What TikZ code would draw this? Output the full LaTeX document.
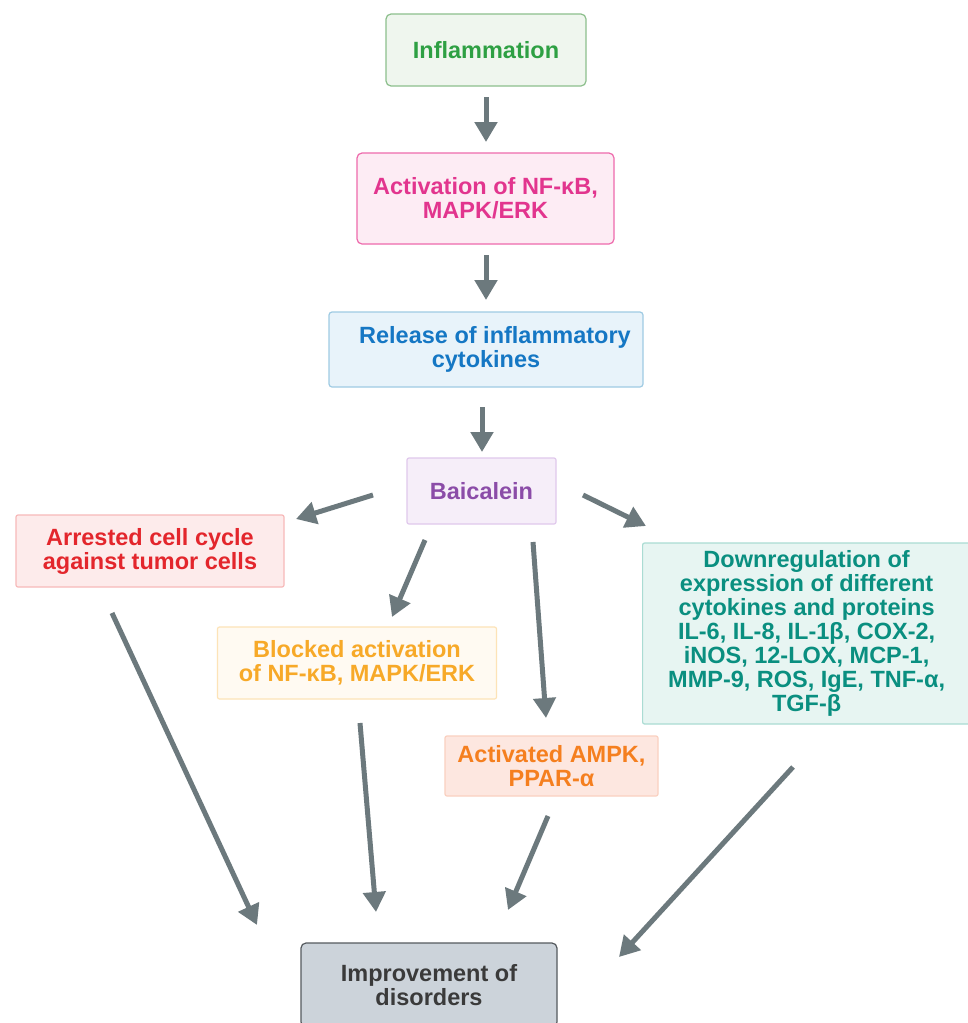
\documentclass[tikz,border=0pt]{standalone}
\usepackage{fontspec}
\setmainfont{Liberation Sans}
\usetikzlibrary{arrows.meta}
\definecolor{arrowgrey}{HTML}{6C797D}
\definecolor{gT}{HTML}{2EA043}\definecolor{gD}{HTML}{8CBF8C}\definecolor{gF}{HTML}{EFF6EE}
\definecolor{pT}{HTML}{E2358E}\definecolor{pD}{HTML}{EE6AAC}\definecolor{pF}{HTML}{FDECF4}
\definecolor{bT}{HTML}{1577C4}\definecolor{bD}{HTML}{9FCBE3}\definecolor{bF}{HTML}{E8F3FA}
\definecolor{vT}{HTML}{8B4CA8}\definecolor{vD}{HTML}{E0C8EC}\definecolor{vF}{HTML}{F6EEF9}
\definecolor{rT}{HTML}{E3262C}\definecolor{rD}{HTML}{F7B9B9}\definecolor{rF}{HTML}{FDEBEB}
\definecolor{yT}{HTML}{F7A928}\definecolor{yD}{HTML}{FDE3B7}\definecolor{yF}{HTML}{FFFAF2}
\definecolor{oT}{HTML}{F57F1F}\definecolor{oD}{HTML}{FAD0C0}\definecolor{oF}{HTML}{FDE7E0}
\definecolor{tT}{HTML}{0A8F80}\definecolor{tD}{HTML}{AADCD3}\definecolor{tF}{HTML}{E7F5F2}
\definecolor{iT}{HTML}{3A3A3A}\definecolor{iD}{HTML}{555A5E}\definecolor{iF}{HTML}{CCD3DA}
\tikzset{
  boxnode/.style={line width=1.2pt, inner sep=0pt, align=center,
    font=\fontsize{23.5}{24}\selectfont\bfseries},
  flowarrow/.style={draw=arrowgrey, line width=5pt, -{Triangle[length=20pt,width=22pt]}}
}
\begin{document}
\begin{tikzpicture}[x=1pt,y=-1pt]
\useasboundingbox (0,0) rectangle (968,1023);
\clip (0,0) rectangle (968,1023);
\fill[white] (0,0) rectangle (968,1023);
% boxes
\node[boxnode, draw=gD, fill=gF, text=gT, rounded corners=5pt, minimum width=200pt, minimum height=72pt] (infl) at (486,50) {Inflammation};
\node[boxnode, draw=pD, fill=pF, text=pT, rounded corners=5pt, minimum width=257pt, minimum height=91pt] (act) at (485.5,198.5) {Activation of NF-κB,\\MAPK/ERK};
\node[boxnode, draw=bD, fill=bF, text=bT, rounded corners=3pt, minimum width=314pt, minimum height=75pt] (rel) at (486,349.5) {\hspace*{18pt}Release of inflammatory\\cytokines};
\node[boxnode, draw=vD, fill=vF, text=vT, rounded corners=2pt, minimum width=149pt, minimum height=66pt] (baic) at (481.5,491) {Baicalein};
\node[boxnode, draw=rD, fill=rF, text=rT, rounded corners=2pt, minimum width=268pt, minimum height=72pt] (arr) at (150,551) {Arrested cell cycle\\against tumor cells};
\node[boxnode, draw=yD, fill=yF, text=yT, rounded corners=2pt, minimum width=279pt, minimum height=72pt] (blk) at (357,663) {Blocked activation\\of NF-κB, MAPK/ERK};
\node[boxnode, draw=oD, fill=oF, text=oT, rounded corners=2pt, minimum width=213pt, minimum height=60pt] (ampk) at (551.5,766) {Activated AMPK,\\PPAR-α};
\node[boxnode, draw=tD, fill=tF, text=tT, rounded corners=2pt, minimum width=328pt, minimum height=181pt, anchor=west] (down) at (642,633.5) {Downregulation of\\expression of different\\cytokines and proteins\\IL-6, IL-8, IL-1β, COX-2,\\iNOS, 12-LOX, MCP-1,\\MMP-9, ROS, IgE, TNF-α,\\TGF-β};
\node[boxnode, draw=iD, fill=iF, text=iT, rounded corners=5pt, minimum width=256pt, minimum height=84pt] (impr) at (429,985) {Improvement of\\disorders};
% arrow end points
\coordinate (a1s) at (486,97);  \coordinate (a1e) at (486,142);
\coordinate (a2s) at (486,255); \coordinate (a2e) at (486,300);
\coordinate (a3s) at (482,407); \coordinate (a3e) at (482,452);
\coordinate (b1s) at (373,495); \coordinate (b1e) at (296,519);
\coordinate (b2s) at (425,540); \coordinate (b2e) at (392,617);
\coordinate (b3s) at (533,542); \coordinate (b3e) at (546,718);
\coordinate (b4s) at (583,495); \coordinate (b4e) at (646,526);
\coordinate (c1s) at (112,613); \coordinate (c1e) at (257,925);
\coordinate (c2s) at (360,723); \coordinate (c2e) at (376,912);
\coordinate (c3s) at (548,816); \coordinate (c3e) at (508,910);
\coordinate (c4s) at (793,767); \coordinate (c4e) at (619,957);
% arrows
\draw[flowarrow] (a1s) -- (a1e);
\draw[flowarrow] (a2s) -- (a2e);
\draw[flowarrow] (a3s) -- (a3e);
\draw[flowarrow] (b1s) -- (b1e);
\draw[flowarrow] (b2s) -- (b2e);
\draw[flowarrow] (b3s) -- (b3e);
\draw[flowarrow] (b4s) -- (b4e);
\draw[flowarrow] (c1s) -- (c1e);
\draw[flowarrow] (c2s) -- (c2e);
\draw[flowarrow] (c3s) -- (c3e);
\draw[flowarrow] (c4s) -- (c4e);
\end{tikzpicture}
\end{document}
